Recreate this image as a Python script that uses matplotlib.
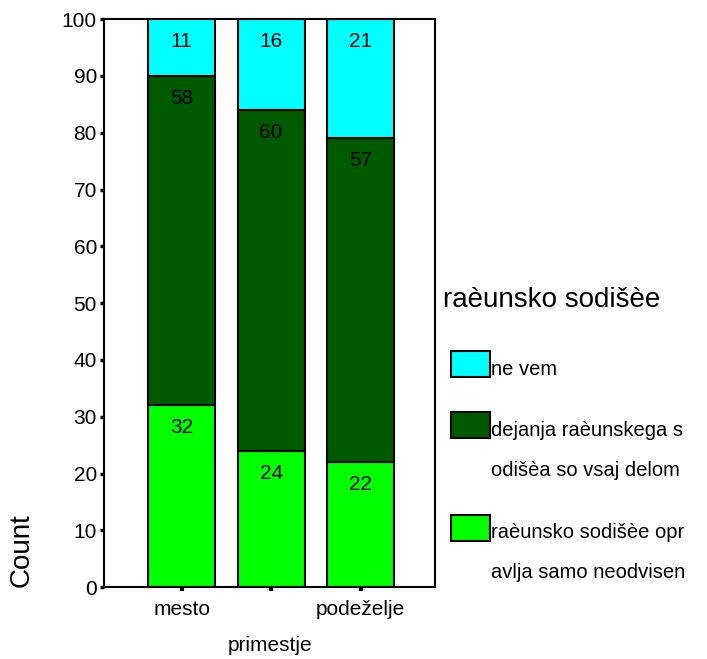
import matplotlib.pyplot as plt
from matplotlib.patches import Rectangle
import numpy as np

plt.rcParams['font.family'] = ['Liberation Sans', 'DejaVu Sans']

categories = ['mesto', '', 'podeželje']
# stacked from bottom to top
samo_neodvisen = [32, 24, 22]
vsaj_delom = [58, 60, 57]
ne_vem = [11, 16, 21]

series = [samo_neodvisen, vsaj_delom, ne_vem]
colors = ['#00FF00', '#005A00', '#00FFFF']
legend_title = 'raèunsko sodišèe'
legend_labels = ['ne vem',
                 'dejanja raèunskega s\nodišèa so vsaj delom',
                 'raèunsko sodišèe opr\navlja samo neodvisen']
legend_colors = ['#00FFFF', '#005A00', '#00FF00']

fig = plt.figure(figsize=(7.07, 6.59), dpi=100)
ax = fig.add_axes([0.147, 0.109, 0.468, 0.862])

x = np.arange(len(categories))
bottom = np.zeros(len(categories))
for vals, col in zip(series, colors):
    vals = np.array(vals, dtype=float)
    ax.bar(x, vals, 0.75, bottom=bottom, color=col, edgecolor='black', linewidth=1.5)
    tops = np.minimum(bottom + vals, 100)
    for xi, t, v in zip(x, tops, vals):
        ax.annotate(str(int(v)), (xi, t), xytext=(0, -16), textcoords='offset points',
                    ha='center', va='center', fontsize=15)
    bottom += vals

ax.set_xlim(-0.87, 2.83)
ax.set_ylim(0, 100)
ax.set_yticks(range(0, 101, 10))
ax.set_xticks(x)
ax.set_xticklabels(categories)
ax.tick_params(axis='y', direction='out', length=3, width=2.5, labelsize=15, pad=2)
ax.tick_params(axis='x', direction='out', length=3, width=3, labelsize=15, pad=6)
for s in ax.spines.values():
    s.set_linewidth(1.5)

fig.text(0.030, 0.165, 'Count', rotation=90, ha='center', va='center', fontsize=20)
fig.text(0.382, 0.021, 'primestje', ha='center', va='center', fontsize=15)

# legend drawn by hand to match SPSS layout
fig.text(443 / 707, 1 - 300 / 659, legend_title, ha='left', va='center', fontsize=20)
patch_y = [351, 412, 515]
for py, lab, col in zip(patch_y, legend_labels, legend_colors):
    fig.add_artist(Rectangle((451 / 707, 1 - (py + 26) / 659), 39 / 707, 26 / 659,
                             transform=fig.transFigure, facecolor=col,
                             edgecolor='black', linewidth=1.5))
    for i, line in enumerate(lab.split('\n')):
        fig.text(491 / 707, 1 - (py + 18 + 40 * i) / 659, line, ha='left', va='center',
                 fontsize=14.5)

fig.savefig('out.png', dpi=100)
